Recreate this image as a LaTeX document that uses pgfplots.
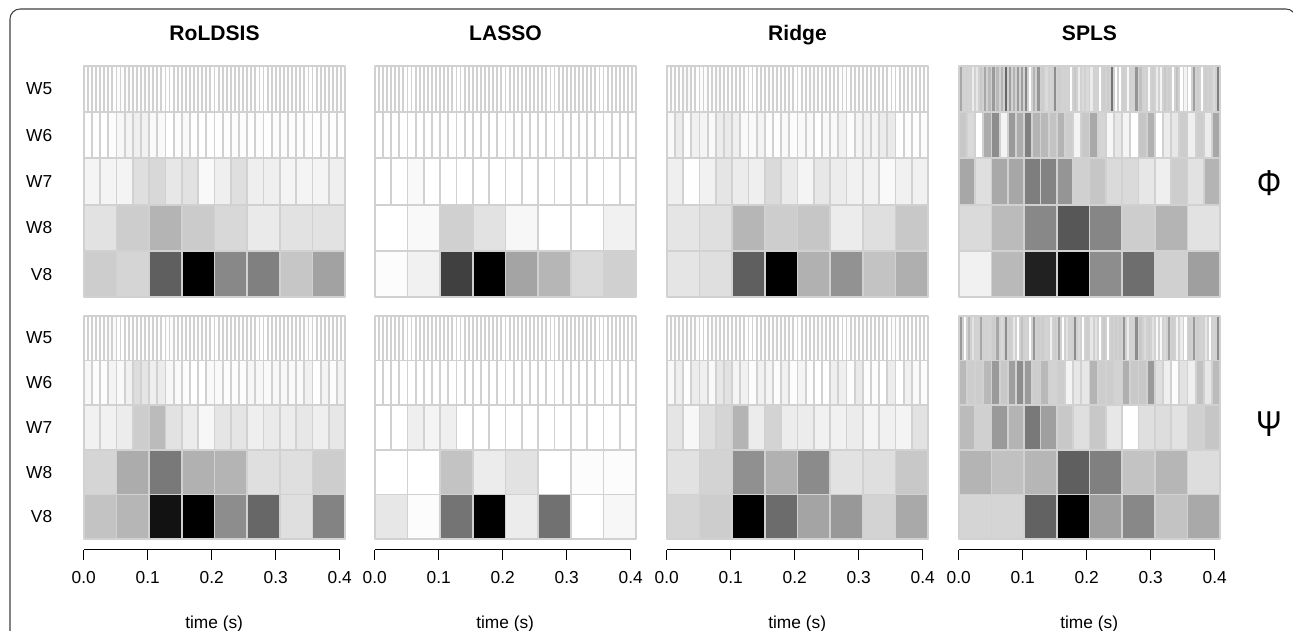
\documentclass[border=0pt]{standalone}
\usepackage{fontspec}
\setmainfont{Liberation Sans}
\usepackage{pgfplots}
\pgfplotsset{compat=1.18}
\usepgfplotslibrary{patchplots}

\definecolor{cellline}{gray}{0.82}
\newcommand{\pxu}{0.75pt}
\newcommand{\fullw}{0.4086}

\pgfplotsset{
  cell/.style={patch, patch type=rectangle, shader=faceted,
    faceted color=cellline, line width=1.4pt, point meta=explicit},
  heat/.style={scale only axis, width=261.5*\pxu, clip=false,
    anchor=north west, xmin=0, xmax=\fullw, ymin=0, ymax=5,
    axis line style={draw=none}, xtick=\empty, ytick=\empty,
    major tick length=0pt,
    colormap={gr}{gray(0)=(0); gray(100)=(1)},
    point meta min=0, point meta max=100,
    title style={font=\fontsize{15.8}{18}\selectfont\bfseries, anchor=base, at={(0.5,1)}, yshift=13pt, inner sep=0pt}},
  heatA/.style={heat, height=231.5*\pxu},
  heatB/.style={heat, height=223.5*\pxu},
  rowlabels/.style={ytick={0.5,1.5,2.5,3.5,4.5}, yticklabels={V8,W8,W7,W6,W5},
    yticklabel style={font=\fontsize{13}{15}\selectfont, anchor=east, inner sep=0pt, xshift=-23.5pt}},
  timeaxis/.style={scale only axis, width=256*\pxu, height=1pt, anchor=south west,
    xmin=0, xmax=0.4, ymin=0, ymax=1, axis x line=bottom, axis y line=none,
    x axis line style={-, line width=1pt, black}, xtick={0,0.1,0.2,0.3,0.4},
    scaled x ticks=false, tick align=outside, major tick length=8.25pt,
    tick style={line width=1pt, black},
    xticklabel style={font=\fontsize{13}{15}\selectfont, inner sep=0pt, yshift=-8pt,
      /pgf/number format/assume math mode=true, /pgf/number format/fixed,
      /pgf/number format/fixed zerofill, /pgf/number format/precision=1},
    xlabel={time (s)},
    xlabel style={font=\fontsize{13}{15}\selectfont, anchor=base, inner sep=0pt, at={(0.5,0)}, yshift=-59.5pt, xshift=1.8pt}},
}

% \heatrow{row from bottom}{number of cells}{grey levels, 0 black to 100 white}
\newcommand{\heatrow}[3]{%
  \gdef\rowcoords{}%
  \foreach \v [count=\i from 0] in {#3}{%
    \pgfmathsetmacro\xa{\i*\fullw/#2}%
    \pgfmathsetmacro\xb{(\i+1)*\fullw/#2}%
    \pgfmathsetmacro\ya{#1}%
    \pgfmathsetmacro\yb{#1+1}%
    \xdef\rowcoords{\rowcoords (\xa,\ya) [\v] (\xb,\ya) [\v] (\xb,\yb) [\v] (\xa,\yb) [\v]}%
  }%
  \edef\tmp{\noexpand\addplot[cell] coordinates {\rowcoords};}\tmp
}

\begin{document}
\begin{tikzpicture}
\useasboundingbox (0,0) rectangle (1293*\pxu,-631*\pxu);
\draw[rounded corners=10*\pxu, line width=0.8pt, black!75] (10*\pxu,-650*\pxu) -- (10*\pxu,-9*\pxu) -- (1296*\pxu,-9*\pxu) -- (1296*\pxu,-650*\pxu);

% ---------- Phi row ----------
\begin{axis}[heatA, rowlabels, at={(83.75*\pxu,-65.75*\pxu)}, title={RoLDSIS}]
\heatrow{4}{64}{99,99,99,99,99,99,99,99,98,98,98,98,99,99,98,98,99,99,99,99,99,99,99,99,99,99,99,99,99,99,99,99,99,99,99,99,99,99,99,99,99,99,99,99,99,99,99,99,99,99,99,99,99,99,99,99,99,99,99,99,99,99,99,99}
\heatrow{3}{32}{99,99,100,98,96,95,93,94,97,97,100,98,97,99,99,99,99,99,98,98,99,98,99,98,98,98,98,98,99,98,99,99}
\heatrow{2}{16}{95,95,95,87,84,90,88,97,93,87,93,93,95,95,95,93}
\heatrow{1}{8}{88,80,70,79,84,91,88,88}
\heatrow{0}{8}{80,83,37,0,53,50,77,63}
\end{axis}
\begin{axis}[heatA, at={(374.75*\pxu,-65.75*\pxu)}, title={LASSO}]
\heatrow{4}{64}{100,100,100,100,100,100,99,99,100,100,100,100,100,100,100,100,100,100,100,100,100,100,100,100,100,100,100,100,100,100,100,100,100,100,100,100,100,100,100,100,100,100,100,100,100,100,100,100,100,100,100,100,100,100,100,100,100,100,100,100,100,100,100,100}
\heatrow{3}{32}{100,100,100,100,100,100,100,100,99,100,100,100,100,100,100,100,99,100,100,100,100,100,99,100,100,99,100,100,100,100,100,100}
\heatrow{2}{16}{100,100,97,100,100,100,100,100,100,100,100,100,100,100,100,100}
\heatrow{1}{8}{100,97,81,88,96,100,100,94}
\heatrow{0}{8}{98,94,25,0,64,71,85,81}
\end{axis}
\begin{axis}[heatA, at={(666.75*\pxu,-65.75*\pxu)}, title={Ridge}]
\heatrow{4}{64}{99,98,99,99,97,97,99,99,98,98,99,99,97,98,99,99,99,99,99,99,99,99,99,99,99,98,99,99,99,99,99,99,99,99,99,98,98,99,99,99,99,99,98,98,99,99,99,99,99,99,99,99,99,99,99,99,99,99,98,99,99,99,99,99}
\heatrow{3}{32}{97,92,98,94,95,97,92,91,93,97,97,95,98,99,97,98,97,97,100,97,97,94,98,95,94,95,92,91,99,98,99,98}
\heatrow{2}{16}{93,99,94,89,92,93,85,91,95,90,92,94,94,97,94,94}
\heatrow{1}{8}{89,87,71,80,77,92,87,78}
\heatrow{0}{8}{89,87,37,0,69,57,76,68}
\end{axis}
\begin{axis}[heatA, at={(958.75*\pxu,-65.75*\pxu)}, title={SPLS}]
\heatrow{4}{64}{65,82,82,92,90,78,65,72,60,72,70,40,62,70,60,62,52,100,70,58,80,85,82,55,80,82,82,98,78,92,85,85,92,82,100,80,80,45,100,100,80,96,82,58,75,82,97,80,92,95,78,80,100,75,100,95,100,62,80,100,80,80,85,50}
\heatrow{3}{32}{78,85,100,67,55,95,60,67,50,70,72,76,70,80,95,78,66,83,96,90,95,100,77,69,100,92,90,80,93,80,92,65}
\heatrow{2}{16}{65,87,66,65,49,51,58,81,77,85,85,90,93,80,88,70}
\heatrow{1}{8}{85,73,53,34,52,80,70,88}
\heatrow{0}{8}{94,72,13,0,55,43,81,62}
\end{axis}

% ---------- Psi row ----------
\begin{axis}[heatB, rowlabels, at={(83.75*\pxu,-315.75*\pxu)}]
\heatrow{4}{64}{99,99,99,99,99,99,97,97,99,99,99,99,99,99,99,99,99,99,99,99,98,98,99,99,99,99,99,99,99,99,99,99,99,99,99,99,99,99,99,99,99,99,99,99,99,99,99,99,99,99,99,99,99,99,98,98,99,99,99,99,99,99,99,99}
\heatrow{3}{32}{96,98,98,95,97,94,86,89,93,92,96,97,98,100,100,97,97,98,98,98,96,96,97,96,96,97,97,94,99,95,98,95}
\heatrow{2}{16}{94,94,92,80,73,88,92,96,89,89,93,91,92,90,93,90}
\heatrow{1}{8}{83,67,47,69,70,87,87,80}
\heatrow{0}{8}{76,71,7,0,55,40,87,51}
\end{axis}
\begin{axis}[heatB, at={(374.75*\pxu,-315.75*\pxu)}]
\heatrow{4}{64}{100,100,100,100,100,100,99,99,100,100,100,100,99,99,100,100,100,100,100,100,100,100,100,100,100,100,100,100,100,100,100,100,100,100,100,100,100,100,100,100,100,100,100,100,100,100,100,100,100,100,100,100,100,100,100,100,100,100,100,100,100,100,100,100}
\heatrow{3}{32}{100,100,100,100,100,100,100,100,99,100,100,100,100,100,100,100,100,100,99,100,100,100,100,100,100,100,100,100,99,100,100,100}
\heatrow{2}{16}{100,100,93,95,93,100,100,100,100,100,100,100,100,100,100,100}
\heatrow{1}{8}{100,100,76,92,88,100,98,98}
\heatrow{0}{8}{90,98,45,0,92,44,100,96}
\end{axis}
\begin{axis}[heatB, at={(666.75*\pxu,-315.75*\pxu)}]
\heatrow{4}{64}{99,99,98,98,99,99,98,98,99,99,99,98,98,99,99,99,99,98,99,99,99,99,99,99,99,99,98,98,99,99,99,99,99,99,99,99,98,98,99,99,99,99,99,99,98,98,99,99,99,99,99,99,99,99,99,98,98,99,99,99,99,98,99,99}
\heatrow{3}{32}{97,93,99,92,93,97,90,88,95,94,98,94,95,98,94,98,95,98,100,99,93,93,98,91,98,98,100,92,100,94,97,98}
\heatrow{2}{16}{89,96,87,83,70,92,82,92,92,94,94,92,95,94,95,88}
\heatrow{1}{8}{88,82,56,69,54,88,87,78}
\heatrow{0}{8}{83,80,0,42,64,59,82,66}
\end{axis}
\begin{axis}[heatB, at={(958.75*\pxu,-315.75*\pxu)}]
\heatrow{4}{64}{60,98,72,88,82,65,82,82,80,65,85,55,80,90,100,75,82,100,58,80,80,82,93,80,62,100,88,82,55,85,100,80,90,88,100,78,100,80,80,80,58,92,82,55,78,85,80,88,97,97,85,62,80,95,92,100,80,60,80,82,90,100,82,55}
\heatrow{3}{32}{72,80,80,72,60,78,62,55,60,80,72,82,80,95,90,90,70,80,80,82,68,78,78,60,87,93,98,88,93,75,90,73}
\heatrow{2}{16}{73,81,60,70,47,62,78,87,78,90,100,87,86,88,81,77}
\heatrow{1}{8}{70,75,71,37,50,76,71,86}
\heatrow{0}{8}{83,83,38,0,62,53,76,66}
\end{axis}

% ---------- time axes ----------
\begin{axis}[timeaxis, at={(83.75*\pxu,-549.5*\pxu)}]\addplot[draw=none] coordinates {(0,0)};\end{axis}
\begin{axis}[timeaxis, at={(374.75*\pxu,-549.5*\pxu)}]\addplot[draw=none] coordinates {(0,0)};\end{axis}
\begin{axis}[timeaxis, at={(666.75*\pxu,-549.5*\pxu)}]\addplot[draw=none] coordinates {(0,0)};\end{axis}
\begin{axis}[timeaxis, at={(958.75*\pxu,-549.5*\pxu)}]\addplot[draw=none] coordinates {(0,0)};\end{axis}

\node[font=\fontsize{25}{28}\selectfont, inner sep=0pt] at (1269*\pxu,-183.5*\pxu) {\scalebox{0.92}[1.08]{Φ}};
\node[font=\fontsize{25}{28}\selectfont, inner sep=0pt] at (1269*\pxu,-424*\pxu) {\scalebox{0.92}[1.08]{Ψ}};
\end{tikzpicture}
\end{document}
